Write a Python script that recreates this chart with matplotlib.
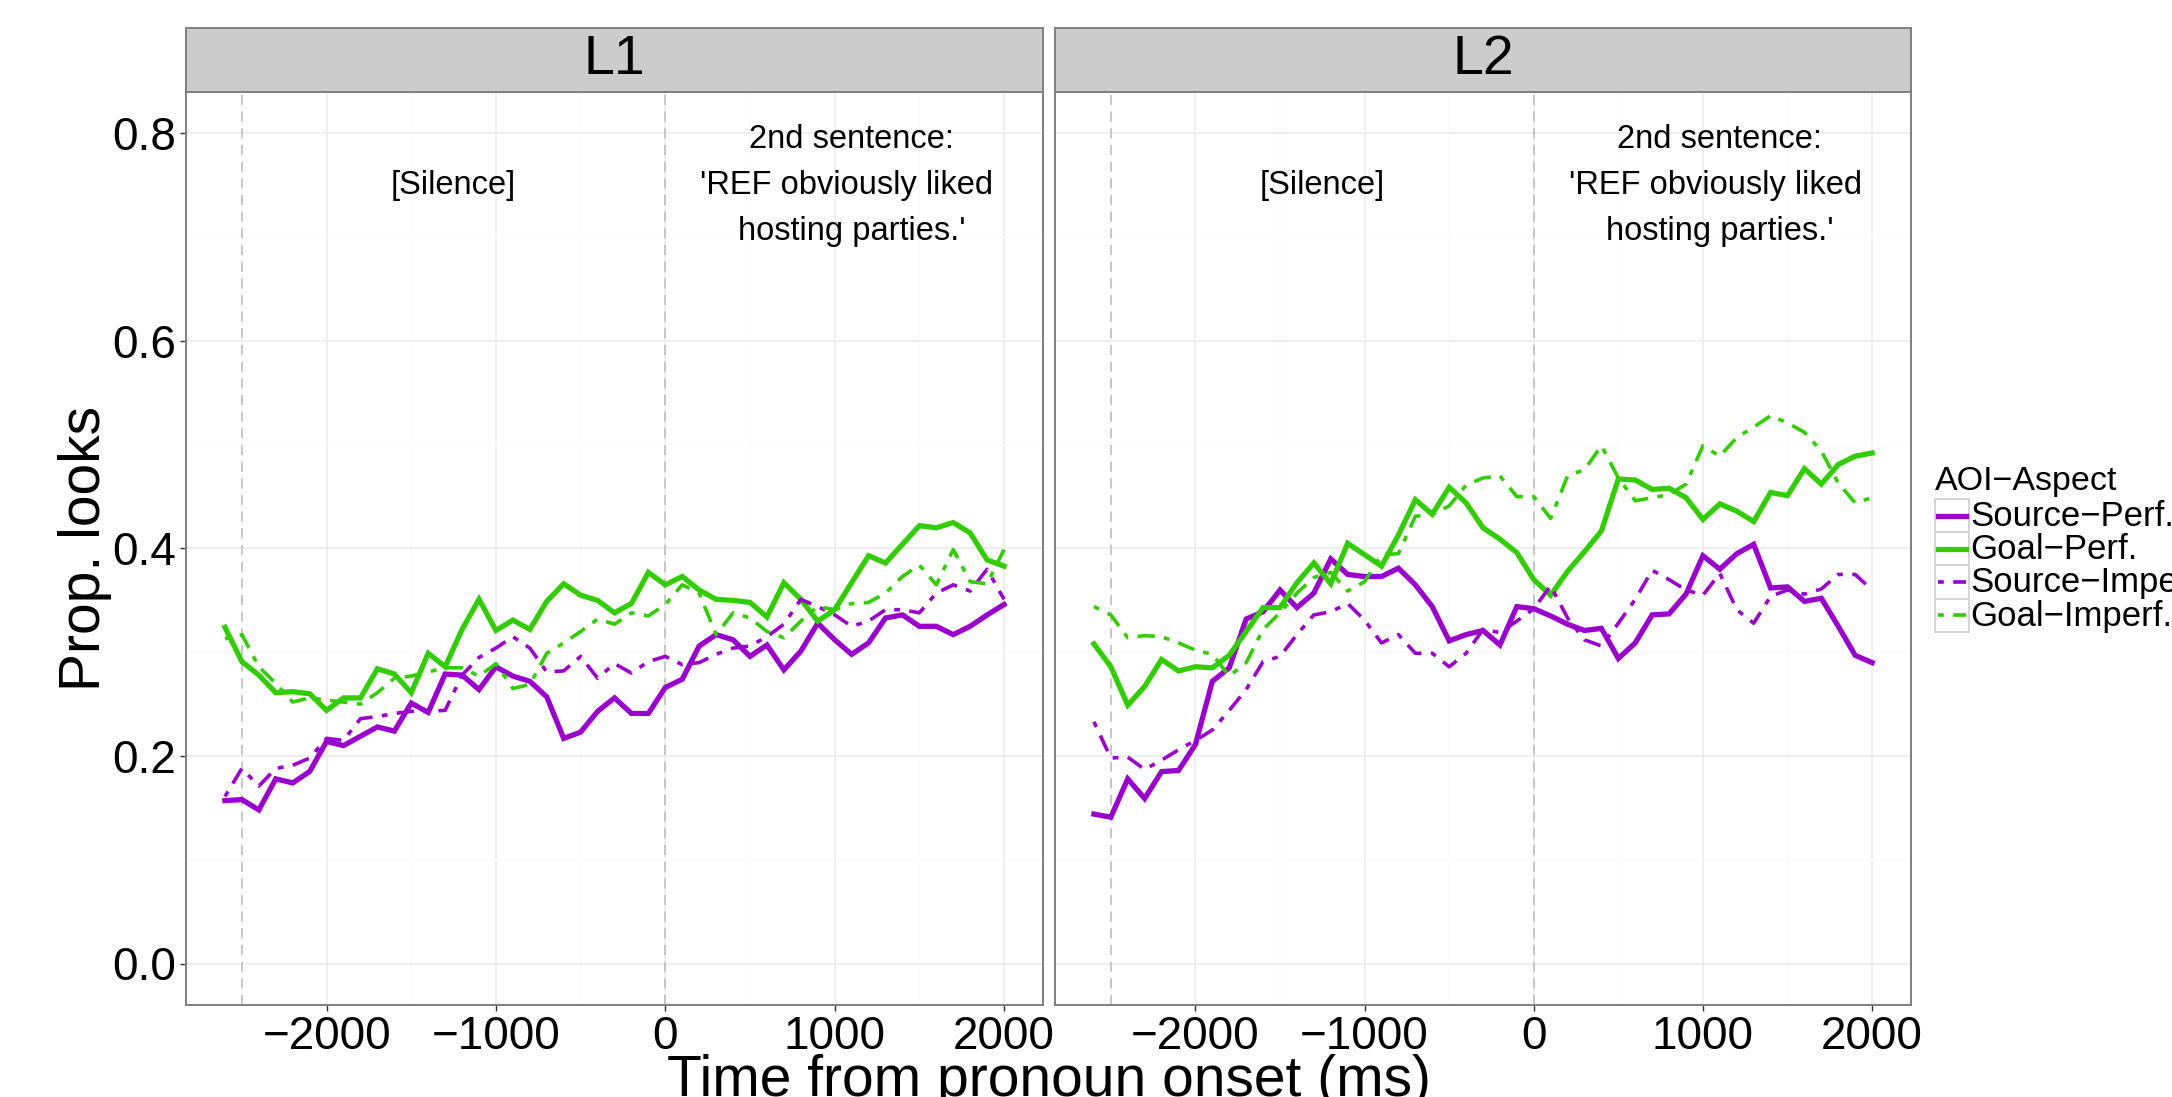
import matplotlib
matplotlib.use("Agg")
import matplotlib.pyplot as plt
from matplotlib.patches import Rectangle
from matplotlib.lines import Line2D

plt.rcParams['font.family'] = ['Liberation Sans', 'DejaVu Sans']

# time bins (ms from pronoun onset)
time_ms = [-2600, -2500, -2400, -2300, -2200, -2100, -2000, -1900, -1800, -1700,
           -1600, -1500, -1400, -1300, -1200, -1100, -1000, -900, -800, -700,
           -600, -500, -400, -300, -200, -100, 0, 100, 200, 300,
           400, 500, 600, 700, 800, 900, 1000, 1100, 1200, 1300,
           1400, 1500, 1600, 1700, 1800, 1900, 2000]

groups = ["Source\u2212Perf.", "Goal\u2212Perf.", "Source\u2212Imperf.", "Goal\u2212Imperf."]
panels = ["L1", "L2"]

# ---- L1 ----
l1_source_perf = [0.157, 0.158, 0.148, 0.178, 0.174, 0.185, 0.214, 0.210, 0.219, 0.228,
                  0.224, 0.251, 0.242, 0.279, 0.278, 0.264, 0.286, 0.277, 0.272, 0.257,
                  0.217, 0.223, 0.243, 0.256, 0.241, 0.241, 0.266, 0.274, 0.306, 0.317,
                  0.312, 0.296, 0.307, 0.283, 0.301, 0.328, 0.312, 0.298, 0.309, 0.333,
                  0.336, 0.325, 0.325, 0.317, 0.325, 0.336, 0.346]
l1_goal_perf = [0.324, 0.291, 0.278, 0.261, 0.262, 0.260, 0.244, 0.256, 0.256, 0.284,
                0.279, 0.261, 0.299, 0.286, 0.322, 0.351, 0.321, 0.331, 0.322, 0.349,
                0.366, 0.355, 0.350, 0.338, 0.347, 0.377, 0.365, 0.373, 0.360, 0.351,
                0.350, 0.348, 0.334, 0.367, 0.351, 0.330, 0.341, 0.367, 0.393, 0.386,
                0.404, 0.422, 0.420, 0.425, 0.415, 0.389, 0.383]
l1_source_imperf = [0.161, 0.188, 0.171, 0.188, 0.191, 0.198, 0.217, 0.215, 0.236, 0.238,
                    0.241, 0.243, 0.243, 0.244, 0.278, 0.295, 0.304, 0.315, 0.304, 0.281,
                    0.282, 0.296, 0.275, 0.289, 0.280, 0.291, 0.296, 0.288, 0.290, 0.298,
                    0.304, 0.306, 0.315, 0.327, 0.351, 0.344, 0.336, 0.325, 0.330, 0.341,
                    0.341, 0.338, 0.357, 0.365, 0.359, 0.380, 0.351]
l1_goal_imperf = [0.313, 0.317, 0.286, 0.270, 0.252, 0.256, 0.254, 0.252, 0.250, 0.261,
                  0.275, 0.277, 0.281, 0.285, 0.285, 0.277, 0.289, 0.265, 0.269, 0.299,
                  0.309, 0.320, 0.332, 0.327, 0.338, 0.335, 0.346, 0.365, 0.357, 0.317,
                  0.338, 0.333, 0.320, 0.314, 0.330, 0.344, 0.341, 0.347, 0.348, 0.357,
                  0.373, 0.384, 0.365, 0.399, 0.368, 0.366, 0.399]

# ---- L2 ----
l2_source_perf = [0.144, 0.141, 0.178, 0.159, 0.185, 0.186, 0.211, 0.272, 0.285, 0.332,
                  0.339, 0.360, 0.343, 0.357, 0.390, 0.375, 0.373, 0.373, 0.381, 0.365,
                  0.344, 0.311, 0.317, 0.321, 0.307, 0.344, 0.342, 0.335, 0.327, 0.321,
                  0.323, 0.294, 0.309, 0.336, 0.337, 0.356, 0.393, 0.380, 0.395, 0.404,
                  0.362, 0.363, 0.349, 0.352, 0.325, 0.297, 0.290]
l2_goal_perf = [0.308, 0.286, 0.249, 0.267, 0.293, 0.282, 0.286, 0.285, 0.297, 0.320,
                0.343, 0.343, 0.367, 0.386, 0.366, 0.405, 0.394, 0.383, 0.413, 0.447,
                0.433, 0.459, 0.444, 0.420, 0.409, 0.396, 0.370, 0.355, 0.378, 0.397,
                0.417, 0.467, 0.466, 0.457, 0.458, 0.449, 0.428, 0.443, 0.436, 0.426,
                0.454, 0.451, 0.477, 0.462, 0.481, 0.489, 0.492]
l2_source_imperf = [0.233, 0.198, 0.199, 0.187, 0.196, 0.206, 0.215, 0.225, 0.244, 0.264,
                    0.291, 0.296, 0.317, 0.336, 0.339, 0.347, 0.331, 0.309, 0.317, 0.299,
                    0.299, 0.286, 0.299, 0.322, 0.319, 0.330, 0.342, 0.364, 0.333, 0.312,
                    0.306, 0.328, 0.351, 0.379, 0.370, 0.360, 0.355, 0.376, 0.341, 0.328,
                    0.354, 0.360, 0.356, 0.361, 0.375, 0.375, 0.360]
l2_goal_imperf = [0.344, 0.336, 0.314, 0.316, 0.315, 0.309, 0.302, 0.298, 0.277, 0.290,
                  0.322, 0.338, 0.357, 0.372, 0.377, 0.359, 0.368, 0.394, 0.395, 0.431,
                  0.433, 0.441, 0.461, 0.468, 0.470, 0.450, 0.450, 0.429, 0.470, 0.476,
                  0.499, 0.468, 0.446, 0.449, 0.452, 0.462, 0.499, 0.489, 0.507, 0.517,
                  0.528, 0.521, 0.512, 0.494, 0.463, 0.444, 0.449]

data = {
    "L1": [l1_source_perf, l1_goal_perf, l1_source_imperf, l1_goal_imperf],
    "L2": [l2_source_perf, l2_goal_perf, l2_source_imperf, l2_goal_imperf],
}

PURPLE = '#9900CC'
GREEN = '#33CC00'
colors = [PURPLE, GREEN, PURPLE, GREEN]
DASH = (0, (1.6, 2.6, 4.8, 2.6))
styles = [dict(lw=3.8, ls='-'), dict(lw=3.8, ls='-'),
          dict(lw=2.6, ls=DASH), dict(lw=2.6, ls=DASH)]

W, H = 2172, 1097
fig = plt.figure(figsize=(W / 100, H / 100), dpi=100)

def fx(px):
    return px / W

def fy(py):
    return 1 - py / H

p_top, p_bot = 92, 1005
strip_top = 28
panel_x = [(186, 1043), (1055, 1911)]

for k, (name, (x0, x1)) in enumerate(zip(panels, panel_x)):
    ax = fig.add_axes([fx(x0), fy(p_bot), (x1 - x0) / W, (p_bot - p_top) / H])
    ax.set_xlim(-2830, 2230)
    ax.set_ylim(-0.04, 0.84)
    ax.set_xticks([-2000, -1000, 0, 1000, 2000])
    ax.set_xticklabels(['\u22122000', '\u22121000', '0', '1000', '2000'])
    ax.set_xticks([-2500, -1500, -500, 500, 1500], minor=True)
    ax.set_yticks([0.0, 0.2, 0.4, 0.6, 0.8])
    ax.set_yticks([0.1, 0.3, 0.5, 0.7], minor=True)
    ax.grid(which='major', color='#EBEBEB', lw=1.1)
    ax.grid(which='minor', color='#FAFAFA', lw=1.1)
    ax.set_axisbelow(True)
    ax.tick_params(which='minor', length=0)
    ax.tick_params(which='major', length=4.3, width=1.0, color='#333333',
                   labelsize=33, pad=3, labelcolor='black')
    if k == 0:
        ax.set_yticklabels(['0.0', '0.2', '0.4', '0.6', '0.8'])
    else:
        ax.tick_params(axis='y', which='both', left=False, labelleft=False)
    for s in ax.spines.values():
        s.set_color('#7F7F7F')
        s.set_linewidth(1.4)

    for xv in (-2500, 0):
        ax.axvline(xv, color='#BEBEBE', lw=1.2, ls=(0, (6, 4)), zorder=1)

    for vals, c, st in zip(data[name], colors, styles):
        ax.plot(time_ms, vals, color=c, zorder=2, solid_joinstyle='miter', **st)

    ax.text(-1250, 0.75, "[Silence]", ha='center', va='center', fontsize=23.5)
    ax.text(1100, 0.75, "2nd sentence:\n'REF obviously liked \nhosting parties.'",
            ha='center', va='center', fontsize=23.5, linespacing=1.63,
            multialignment='center')

    sax = fig.add_axes([fx(x0), fy(p_top), (x1 - x0) / W, (p_top - strip_top) / H])
    sax.set_facecolor('#CCCCCC')
    sax.set_xticks([])
    sax.set_yticks([])
    for s in sax.spines.values():
        s.set_color('#7F7F7F')
        s.set_linewidth(1.4)
    sax.text(0.5, 0.5, name, ha='center', va='center', fontsize=40,
             transform=sax.transAxes)

fig.text(fx(85), fy(548.5), 'Prop. looks', rotation=90, ha='center', va='center',
         fontsize=41)
fig.text(fx(1048.5), 0.001, 'Time from pronoun onset (ms)', ha='center',
         va='baseline', fontsize=41)

# legend, drawn in a pixel-space axes
lx0, lx1, ly0, ly1 = 1925, 2172, 455, 645
lax = fig.add_axes([fx(lx0), fy(ly1), (lx1 - lx0) / W, (ly1 - ly0) / H])
lax.set_xlim(lx0, lx1)
lax.set_ylim(ly1, ly0)
lax.axis('off')
lax.text(1935, 490, "AOI\u2212Aspect", fontsize=24.5, ha='left', va='baseline')
row_h = 33.2
for i, (g, c, st) in enumerate(zip(groups, colors, styles)):
    top = 499 + i * row_h
    lax.add_patch(Rectangle((1935, top), 34, row_h, facecolor='white',
                            edgecolor='#D4D4D4', lw=1.4))
    lax.add_line(Line2D([1938, 1966], [top + row_h / 2] * 2, color=c, **st))
    lax.text(1970, top + row_h / 2 + 1, g, fontsize=25, ha='left', va='center')

fig.savefig('out.png', dpi=100)
